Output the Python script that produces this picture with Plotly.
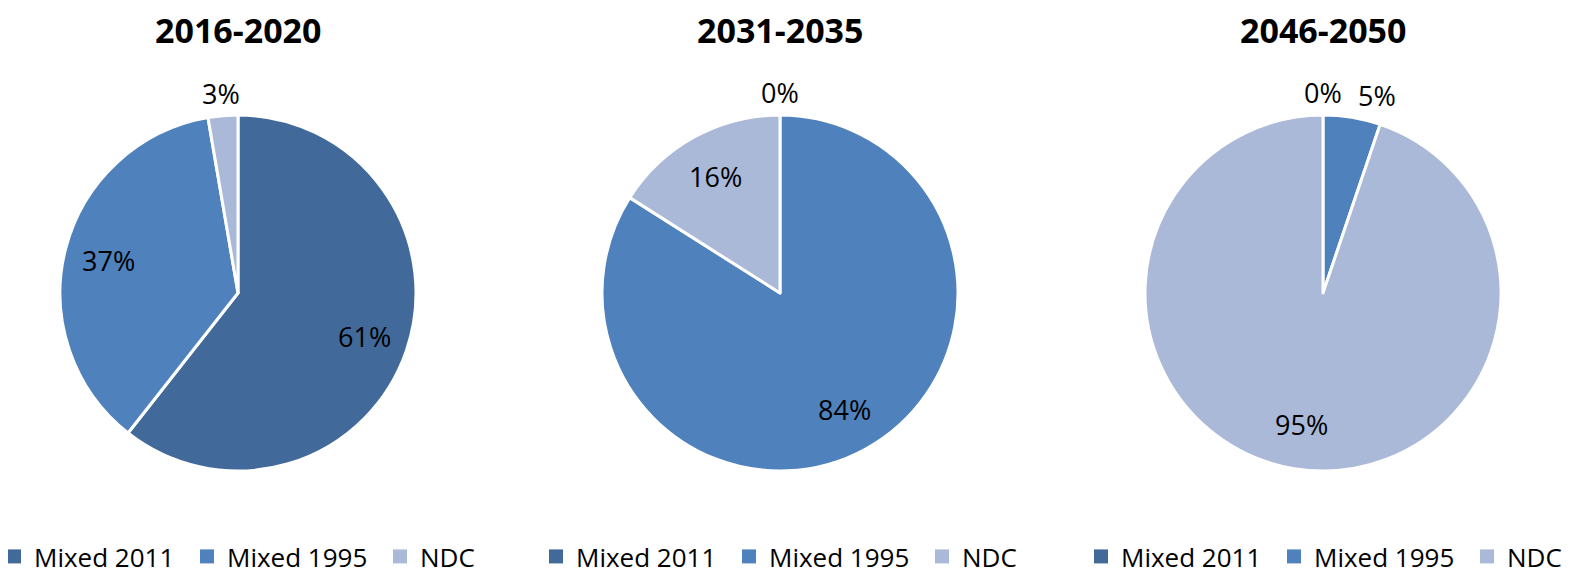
import math
import plotly.graph_objects as go

categories = ["Mixed 2011", "Mixed 1995", "NDC"]
periods = ["2016-2020", "2031-2035", "2046-2050"]
values_2016_2020 = [60.6, 36.7, 2.7]
values_2031_2035 = [0.0, 84.0, 16.0]
values_2046_2050 = [0.0, 5.2, 94.8]
colors = ["#416A9B", "#4F81BD", "#AAB9D7"]

W, H = 1572, 572
OFF = 8  # page body margin of the html page
centers_x = [238 - OFF, 780 - OFF, 1323 - OFF]
cy, r = 293 - OFF, 178
legend_left = [14 - OFF, 556 - OFF, 1101 - OFF]
FONT = "Open Sans"

all_values = [values_2016_2020, values_2031_2035, values_2046_2050]
legend_names = ["legend", "legend2", "legend3"]


def px(x):
    return x / W


def py(y):
    return 1 - y / H


fig = go.Figure()
for i in range(3):
    cx = centers_x[i]
    vals = all_values[i]
    total = sum(vals)
    fig.add_trace(go.Pie(
        labels=[c + " " * i for c in categories],
        values=vals,
        sort=False,
        direction="clockwise",
        rotation=0,
        marker=dict(colors=colors, line=dict(color="white", width=3)),
        textinfo="none",
        domain=dict(x=[px(cx - r), px(cx + r)], y=[py(cy + r), py(cy - r)]),
        showlegend=False,
        hoverinfo="label+percent",
    ))
    # percentage labels, placed at the middle angle of every slice
    cum = 0.0
    for v in vals:
        frac = v / total
        mid = (cum + frac / 2) * 2 * math.pi
        cum += frac
        s, c = math.sin(mid), math.cos(mid)
        if frac < 0.08:
            d = r + 22
            anchor = "left" if s > 0.1 else ("right" if s < -0.1 else "center")
        else:
            d = 0.75 * r
            anchor = "center"
        fig.add_annotation(
            text="%d%%" % round(frac * 100), x=px(cx + s * d), y=py(cy - c * d),
            xref="paper", yref="paper", showarrow=False, xanchor=anchor, yanchor="middle",
            font=dict(family=FONT, size=27, color="black"),
        )
    fig.add_annotation(
        text="<b>%s</b>" % periods[i], x=px(cx), y=py(22), xref="paper", yref="paper",
        showarrow=False, font=dict(family=FONT, size=34, color="black"),
        xanchor="center", yanchor="middle",
    )
    for cat, col in zip(categories, colors):
        fig.add_trace(go.Scatter(
            x=[None], y=[None], mode="markers", name=cat,
            marker=dict(symbol="square", size=14, color=col),
            legend=legend_names[i], showlegend=True, hoverinfo="skip",
        ))

legend_common = dict(orientation="h", yanchor="bottom", y=0, xanchor="left",
                     font=dict(family=FONT, size=26, color="black"), bgcolor="rgba(0,0,0,0)",
                     traceorder="normal", entrywidth=148, entrywidthmode="pixels",
                     itemclick=False, itemdoubleclick=False)
fig.update_layout(
    width=W, height=H,
    margin=dict(l=0, r=0, t=0, b=0, autoexpand=False),
    paper_bgcolor="white", plot_bgcolor="white",
    xaxis=dict(visible=False), yaxis=dict(visible=False),
    legend=dict(x=px(legend_left[0] - 20), **legend_common),
    legend2=dict(x=px(legend_left[1] - 20), **legend_common),
    legend3=dict(x=px(legend_left[2] - 20), **legend_common),
)
fig.write_html("out.html")
